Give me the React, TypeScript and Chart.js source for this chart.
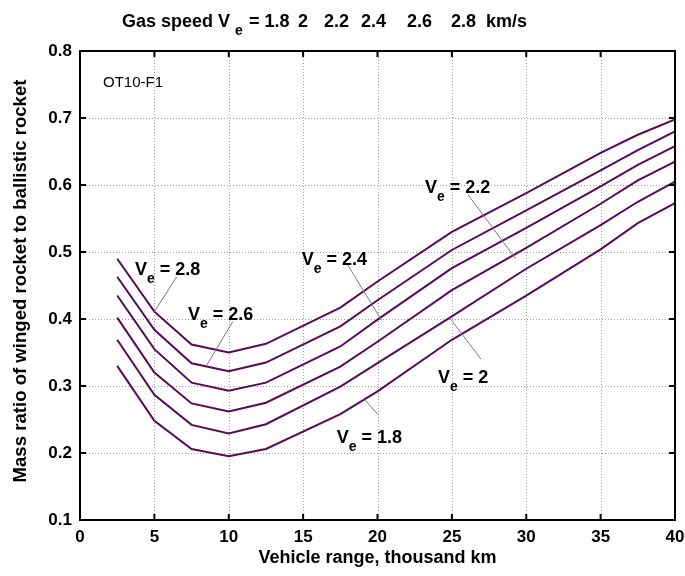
import React, { useEffect, useRef } from "react";
import { Chart, registerables } from "chart.js";

Chart.register(...registerables);

// Vehicle range, thousand km
const rangeKm = [2.5, 5, 7.5, 10, 12.5, 17.5, 20, 25, 30, 35, 37.5, 40];
// Mass ratio for each gas speed Ve (km/s)
const ve18 = [0.330, 0.248, 0.206, 0.195, 0.206, 0.258, 0.292, 0.369, 0.435, 0.504, 0.543, 0.573];
const ve20 = [0.369, 0.287, 0.242, 0.229, 0.243, 0.299, 0.334, 0.404, 0.475, 0.540, 0.575, 0.605];
const ve22 = [0.402, 0.320, 0.274, 0.262, 0.275, 0.329, 0.366, 0.443, 0.506, 0.572, 0.607, 0.635];
const ve24 = [0.435, 0.355, 0.305, 0.293, 0.305, 0.359, 0.399, 0.476, 0.536, 0.598, 0.630, 0.658];
const ve26 = [0.463, 0.384, 0.334, 0.322, 0.335, 0.389, 0.428, 0.503, 0.562, 0.622, 0.652, 0.680];
const ve28 = [0.490, 0.411, 0.362, 0.350, 0.363, 0.417, 0.456, 0.530, 0.588, 0.648, 0.675, 0.698];
const seriesNames = ["1.8", "2", "2.2", "2.4", "2.6", "2.8"];
const seriesValues = [ve18, ve20, ve22, ve24, ve26, ve28];

const xTicks = [0, 5, 10, 15, 20, 25, 30, 35, 40];
const yTicks = [0.1, 0.2, 0.3, 0.4, 0.5, 0.6, 0.7, 0.8];

const titleLead = "Gas speed ";
const titlePieces = ["= 1.8", "2", "2.2", "2.4", "2.6", "2.8", "km/s"];
const titlePieceX = [249, 298, 324, 361, 407, 451, 486];
const xTitle = "Vehicle range, thousand km";
const yTitle = "Mass ratio of winged rocket to ballistic rocket";
const figureTag = "OT10-F1";

// Callout labels (in data coordinates)
const labelValues = ["2.8", "2.6", "2.4", "2.2", "2", "1.8"];
const labelAt = [[3.7, 0.466], [7.26, 0.398], [14.9, 0.481], [23.19, 0.588], [24.07, 0.304], [17.26, 0.215]];
const leaderFrom = [[6.5, 0.463], [10.27, 0.396], [17.93, 0.483], [26.1, 0.585], [26.96, 0.34], [20.05, 0.257]];
const leaderTo = [[5.0, 0.411], [8.52, 0.331], [20.28, 0.398], [29.29, 0.49], [24.87, 0.401], [19.12, 0.28]];

const FONT = "'Liberation Sans', Arial, Helvetica, sans-serif";
const LINE_COLOR = "#560b56";

function drawVe(ctx: CanvasRenderingContext2D, x: number, y: number, rest: string, gap: number) {
  ctx.textAlign = "left";
  ctx.textBaseline = "alphabetic";
  ctx.font = `bold 18px ${FONT}`;
  ctx.fillText("V", x, y);
  let cx = x + ctx.measureText("V").width + gap;
  ctx.font = `bold 14px ${FONT}`;
  ctx.fillText("e", cx, y + 8);
  cx += ctx.measureText("e").width;
  ctx.font = `bold 18px ${FONT}`;
  if (rest) ctx.fillText(rest, cx, y);
}

const decorPlugin = {
  id: "decor",
  beforeDatasetsDraw(chart: any) {
    const { ctx, chartArea: a, scales } = chart;
    const xs = scales.x, ys = scales.y;
    ctx.save();
    ctx.strokeStyle = "#a0a0a0";
    ctx.lineWidth = 1;
    ctx.setLineDash([1, 2]);
    xTicks.forEach((v) => {
      const px = Math.round(xs.getPixelForValue(v)) + 0.5;
      ctx.beginPath();
      ctx.moveTo(px, a.top);
      ctx.lineTo(px, a.bottom);
      ctx.stroke();
    });
    yTicks.forEach((v) => {
      const py = Math.round(ys.getPixelForValue(v)) + 0.5;
      ctx.beginPath();
      ctx.moveTo(a.left, py);
      ctx.lineTo(a.right, py);
      ctx.stroke();
    });
    ctx.restore();
  },
  afterDraw(chart: any) {
    const { ctx, chartArea: a, scales } = chart;
    const xs = scales.x, ys = scales.y;
    ctx.save();
    // frame
    ctx.setLineDash([]);
    ctx.strokeStyle = "#000";
    ctx.lineWidth = 2;
    ctx.strokeRect(a.left, a.top, a.right - a.left, a.bottom - a.top);
    // inward tick marks
    const tl = 6;
    xTicks.forEach((v) => {
      const px = xs.getPixelForValue(v);
      ctx.beginPath();
      ctx.moveTo(px, a.bottom);
      ctx.lineTo(px, a.bottom - tl);
      ctx.moveTo(px, a.top);
      ctx.lineTo(px, a.top + tl);
      ctx.stroke();
    });
    yTicks.forEach((v) => {
      const py = ys.getPixelForValue(v);
      ctx.beginPath();
      ctx.moveTo(a.left, py);
      ctx.lineTo(a.left + tl, py);
      ctx.moveTo(a.right, py);
      ctx.lineTo(a.right - tl, py);
      ctx.stroke();
    });
    // leader lines
    ctx.strokeStyle = "#7a7a7a";
    ctx.lineWidth = 1;
    leaderFrom.forEach((f, i) => {
      const t = leaderTo[i];
      ctx.beginPath();
      ctx.moveTo(xs.getPixelForValue(f[0]), ys.getPixelForValue(f[1]));
      ctx.lineTo(xs.getPixelForValue(t[0]), ys.getPixelForValue(t[1]));
      ctx.stroke();
    });
    // callout labels
    ctx.fillStyle = "#000";
    labelValues.forEach((lv, i) => {
      const p = labelAt[i];
      drawVe(ctx, xs.getPixelForValue(p[0]), ys.getPixelForValue(p[1]), " = " + lv, 0);
    });
    // title
    ctx.font = `bold 18px ${FONT}`;
    ctx.textAlign = "left";
    ctx.textBaseline = "alphabetic";
    const tx = 122;
    ctx.fillText(titleLead, tx, 27);
    const gw = ctx.measureText(titleLead).width;
    drawVe(ctx, tx + gw, 27, "", 5);
    ctx.font = `bold 18px ${FONT}`;
    titlePieces.forEach((p, i) => ctx.fillText(p, titlePieceX[i], 27));
    // tag
    ctx.font = `15px ${FONT}`;
    ctx.fillText(figureTag, 103, 87);
    // x title
    ctx.font = `bold 18px ${FONT}`;
    ctx.textAlign = "center";
    ctx.fillText(xTitle, (a.left + a.right) / 2, 563);
    // y title
    ctx.font = `bold 18.6px ${FONT}`;
    ctx.translate(21, 281);
    ctx.rotate(-Math.PI / 2);
    ctx.textBaseline = "middle";
    ctx.fillText(yTitle, 0, 0);
    ctx.restore();
  },
};

export default function App() {
  const ref = useRef<HTMLCanvasElement | null>(null);
  useEffect(() => {
    if (!ref.current) return;
    const chart = new Chart(ref.current, {
      type: "line",
      data: {
        datasets: seriesValues.map((vals, i) => ({
          label: "Ve = " + seriesNames[i],
          data: rangeKm.map((x, j) => ({ x, y: vals[j] })),
          borderColor: LINE_COLOR,
          borderWidth: 2,
          pointRadius: 0,
          tension: 0,
          fill: false,
        })),
      },
      options: {
        animation: false,
        responsive: false,
        maintainAspectRatio: false,
        events: [],
        layout: { padding: { top: 51, right: 10, left: 0, bottom: 0 } },
        plugins: { legend: { display: false }, tooltip: { enabled: false }, title: { display: false } },
        scales: {
          x: {
            type: "linear",
            min: 0,
            max: 40,
            grid: { display: false, drawTicks: false },
            border: { display: false },
            afterBuildTicks: (s: any) => { s.ticks = xTicks.map((v) => ({ value: v })); },
            afterFit: (s: any) => { s.height = 56; s.paddingLeft = 0; s.paddingRight = 0; },
            ticks: {
              padding: 7,
              color: "#000",
              font: { family: FONT, size: 17, weight: "bold" },
              callback: (v: any) => String(v),
              maxRotation: 0,
              autoSkip: false,
            },
          },
          y: {
            type: "linear",
            min: 0.1,
            max: 0.8,
            grid: { display: false, drawTicks: false },
            border: { display: false },
            afterBuildTicks: (s: any) => { s.ticks = yTicks.map((v) => ({ value: v })); },
            afterFit: (s: any) => { s.width = 80; s.paddingTop = 0; s.paddingBottom = 0; },
            ticks: {
              padding: 8,
              color: "#000",
              font: { family: FONT, size: 17, weight: "bold" },
              callback: (v: any) => Number(v).toFixed(1),
              autoSkip: false,
            },
          },
        },
      },
      plugins: [decorPlugin],
    });
    return () => chart.destroy();
  }, []);
  return (
    <div style={{ position: "fixed", left: 0, top: 0, width: 685, height: 576, background: "#fff" }}>
      <canvas ref={ref} width={685} height={576} style={{ width: 685, height: 576, display: "block" }} />
    </div>
  );
}
